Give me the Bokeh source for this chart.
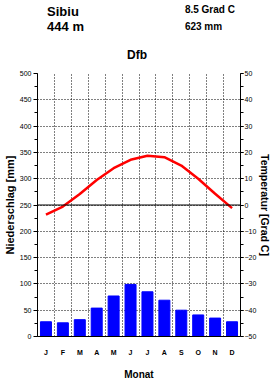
from bokeh.plotting import figure
from bokeh.layouts import column
from bokeh.models import (Range1d, LinearAxis, FixedTicker, Span, ColumnDataSource)
from bokeh.core.properties import value
from bokeh.embed import file_html
from bokeh.resources import INLINE

station = "Sibiu"
altitude = "444 m"
mean_temp = "8.5 Grad C"
total_prec = "623 mm"
climate = "Dfb"
months = ["J", "F", "M", "A", "M", "J", "J", "A", "S", "O", "N", "D"]
precip = [28, 26, 32, 54, 77, 99, 85, 69, 50, 41, 35, 28]
temp = [-3.7, -0.6, 4.2, 9.5, 14.0, 17.2, 18.7, 18.2, 15.0, 10.0, 4.3, -1.2]

FONT = "Liberation Sans"
xc = [i + 0.5 for i in range(12)]
src = ColumnDataSource(dict(x=xc, p=precip, t=temp))

# ---------- header ----------
h = figure(width=270, height=68, title=None,
           output_backend="svg", toolbar_location=None,
           x_range=Range1d(0, 270), y_range=Range1d(68, 0),
           x_axis_location=None, y_axis_location=None,
           min_border=0, min_border_left=0, min_border_right=0,
           min_border_top=0, min_border_bottom=0)
h.grid.visible = False
h.outline_line_color = None
h.text(x=[13, 13], y=[10.5, 25.5], text=[station, altitude], text_font=value(FONT),
       text_font_size="13px", text_font_style="bold", text_baseline="alphabetic",
       text_color="black")
h.text(x=[200, 200], y=[9, 25.5], text=[mean_temp, total_prec], text_font=value(FONT),
       text_font_size="10px", text_font_style="bold", text_baseline="alphabetic",
       text_color="black")
h.text(x=[135], y=[54], text=[climate], text_font=value(FONT),
       text_font_size="12px", text_font_style="bold", text_baseline="alphabetic",
       text_align="center", text_color="black")

# ---------- main chart ----------
p = figure(width=270, height=310, output_backend="svg", toolbar_location=None,
           x_range=Range1d(0, 12), y_range=Range1d(0, 500),
           min_border_left=34, min_border_right=33, min_border_top=5, min_border_bottom=42,
           frame_width=203, frame_height=263)
p.extra_y_ranges = {"temp": Range1d(-50, 50)}
p.outline_line_color = None

# grids
p.xgrid.ticker = FixedTicker(ticks=list(range(1, 12)))
p.xgrid.grid_line_color = "black"
p.xgrid.grid_line_dash = "1 2"
p.ygrid.ticker = FixedTicker(ticks=list(range(50, 501, 50)))
p.ygrid.grid_line_color = "black"
p.ygrid.grid_line_dash = "1 2"

# bars
p.vbar(x="x", top="p", bottom=0, width=0.65, color="#0000FF", source=src)

# 0 degC line
p.add_layout(Span(location=250, dimension="width", line_color="black", line_width=1))

# temperature
p.line(x="x", y="t", source=src, y_range_name="temp", color="#FF0000", line_width=2.5)

def style_y(ax, label):
    ax.major_tick_in = 0
    ax.major_tick_out = 4
    ax.minor_tick_in = 0
    ax.minor_tick_out = 3
    ax.major_tick_line_color = "black"
    ax.minor_tick_line_color = "black"
    ax.axis_line_color = "black"
    ax.major_label_text_font = FONT
    ax.major_label_text_font_size = "7px"
    ax.major_label_text_color = "black"
    ax.major_label_standoff = 2
    ax.axis_label = label
    ax.axis_label_text_font = FONT
    ax.axis_label_text_font_style = "bold"
    ax.axis_label_text_font_size = "11px"
    ax.axis_label_text_color = "black"
    ax.axis_label_standoff = 1

la = p.yaxis[0]
la.ticker = FixedTicker(ticks=list(range(0, 501, 50)), minor_ticks=list(range(0, 501, 25)))
style_y(la, "Niederschlag [mm]")

ra = LinearAxis(y_range_name="temp")
ra.ticker = FixedTicker(ticks=list(range(-50, 51, 10)), minor_ticks=list(range(-50, 51, 5)))
style_y(ra, "Temperatur [Grad C]")
ra.major_tick_out = 3
ra.major_label_standoff = 1
ra.axis_label_standoff = 0
ra.axis_label_text_font_size = "10.5px"
p.add_layout(ra, "right")

xa = p.xaxis[0]
xa.ticker = FixedTicker(ticks=xc)
xa.major_label_overrides = {v: m for v, m in zip(xc, months)}
xa.major_tick_in = 0
xa.major_tick_out = 0
xa.minor_tick_line_color = None
xa.axis_line_color = "black"
xa.major_label_text_font = FONT
xa.major_label_text_font_size = "7px"
xa.major_label_text_font_style = "bold"
xa.major_label_text_color = "black"
xa.major_label_standoff = 12
xa.axis_label = "Monat"
xa.axis_label_text_font = FONT
xa.axis_label_text_font_style = "bold"
xa.axis_label_text_font_size = "10px"
xa.axis_label_text_color = "black"
xa.axis_label_standoff = 10

open("out.html", "w").write(file_html(column(h, p, spacing=0), INLINE))
